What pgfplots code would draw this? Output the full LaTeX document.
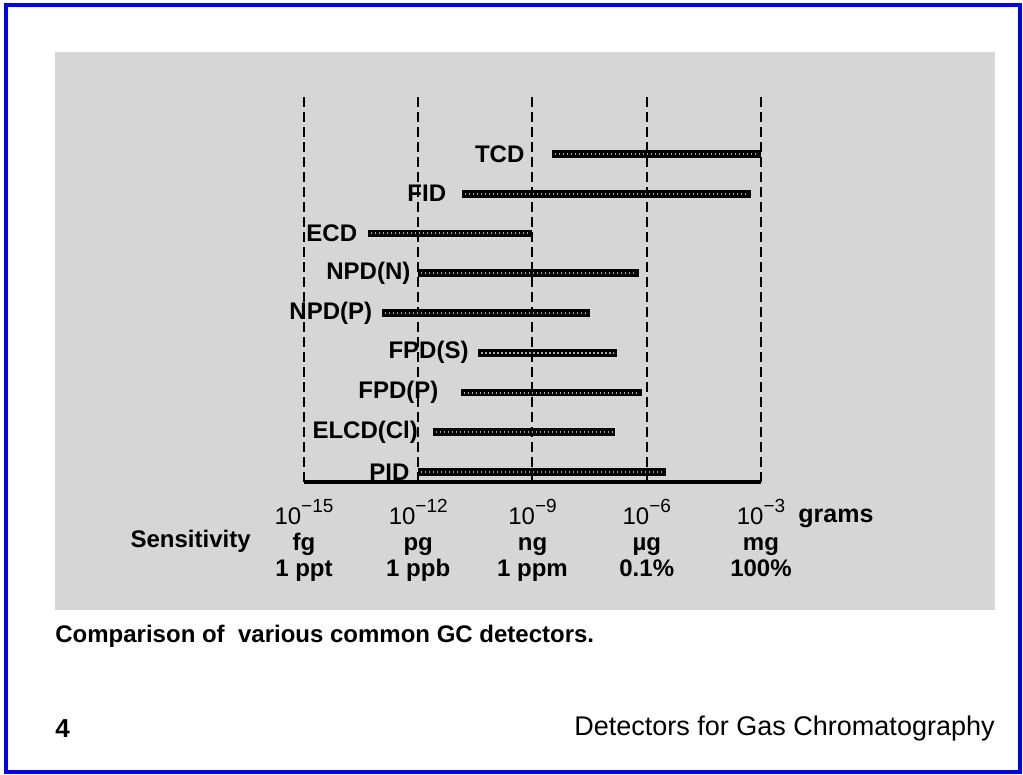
\documentclass[border=0pt]{standalone}
\usepackage{fontspec}
\setmainfont{Liberation Sans}
\usepackage{pgfplots}
\pgfplotsset{compat=1.18}
\newcommand\ex[1]{10\raisebox{0.5em}{\fontsize{9.5}{9.5}\selectfont #1}}
\tikzset{
  lab/.style={font=\bfseries\fontsize{12}{14}\selectfont, inner sep=0pt, pos=0, anchor=east},
  outerbar/.style={black, line width=3.9pt},
  innerbar/.style={black!35, line width=1pt, dash pattern=on 0.7pt off 1.3pt, shorten <=1.4pt, shorten >=1.4pt},
}
\begin{document}
\begin{tikzpicture}
\useasboundingbox (0pt,0pt) rectangle (511.5pt,387.5pt);
\fill[white] (0pt,0pt) rectangle (511.5pt,387.5pt);
\draw[blue, line width=2pt] (3pt,1.5pt) rectangle (510pt,385pt);
\fill[black!16] (27.5pt,82.5pt) rectangle (497.5pt,361.5pt);
\begin{axis}[
  at={(152pt,146.5pt)}, anchor=south west,
  scale only axis, width=228.5pt, height=193.5pt,
  xmode=log, xmin=1e-15, xmax=1e-3, ymin=0.75, ymax=10.48,
  axis x line=bottom, axis y line=none,
  x axis line style={-, line width=2pt, black},
  xtick={1e-15,1e-12,1e-9,1e-6,1e-3},
  xticklabels={{\ex{−15}\\\bfseries fg\\\bfseries 1 ppt},
               {\ex{−12}\\\bfseries pg\\\bfseries 1 ppb},
               {\ex{−9}\\\bfseries ng\\\bfseries 1 ppm},
               {\ex{−6}\\\bfseries µg\\\bfseries 0.1\%},
               {\ex{−3}\\\bfseries mg\\\bfseries 100\%}},
  xticklabel style={align=center, font=\fontsize{12}{13}\selectfont, yshift=-5pt},
  major tick length=0pt,
  xminorticks=false,
  xmajorgrids,
  major grid style={black, line width=1pt, dash pattern=on 5pt off 2.5pt},
  clip=false,
]
% black outer bars with labels
\addplot[outerbar] coordinates {(3.31e-9,9) (1e-3,9)} node[lab,xshift=-12pt]{TCD};
\addplot[outerbar] coordinates {(1.41e-11,8) (5.5e-4,8)} node[lab,xshift=-6pt]{FID};
\addplot[outerbar] coordinates {(4.79e-14,7) (1e-9,7)} node[lab,xshift=-3.5pt]{ECD};
\addplot[outerbar] coordinates {(1e-12,6) (6.17e-7,6)} node[lab,xshift=-2pt]{NPD(N)};
\addplot[outerbar] coordinates {(1.12e-13,5) (3.31e-8,5)} node[lab,xshift=-3pt]{NPD(P)};
\addplot[outerbar] coordinates {(3.8e-11,4) (1.66e-7,4)} node[lab,xshift=-3pt]{FPD(S)};
\addplot[outerbar] coordinates {(1.35e-11,3) (7.41e-7,3)} node[lab,xshift=-9.5pt]{FPD(P)};
\addplot[outerbar] coordinates {(2.4e-12,2) (1.48e-7,2)} node[lab,xshift=-5.5pt]{ELCD(Cl)};
\addplot[outerbar] coordinates {(1e-12,1) (3.24e-6,1)} node[lab,xshift=-2.5pt]{PID};
% dotted inner pattern
\addplot[innerbar] coordinates {(3.31e-9,9) (1e-3,9)};
\addplot[innerbar] coordinates {(1.41e-11,8) (5.5e-4,8)};
\addplot[innerbar] coordinates {(4.79e-14,7) (1e-9,7)};
\addplot[innerbar] coordinates {(1e-12,6) (6.17e-7,6)};
\addplot[innerbar] coordinates {(1.12e-13,5) (3.31e-8,5)};
\addplot[innerbar] coordinates {(3.8e-11,4) (1.66e-7,4)};
\addplot[innerbar] coordinates {(1.35e-11,3) (7.41e-7,3)};
\addplot[innerbar] coordinates {(2.4e-12,2) (1.48e-7,2)};
\addplot[innerbar] coordinates {(1e-12,1) (3.24e-6,1)};
\end{axis}
\node[anchor=west, font=\bfseries\fontsize{12.5}{14}\selectfont, inner sep=0pt] at (399pt,128.5pt) {grams};
\node[anchor=east, font=\bfseries\fontsize{12}{14}\selectfont, inner sep=0pt] at (125.5pt,117pt) {Sensitivity};
\node[anchor=west, font=\bfseries\fontsize{12}{14}\selectfont, inner sep=0pt] at (27.5pt,69.5pt) {Comparison of\ \ various common GC detectors.};
\node[anchor=west, font=\bfseries\fontsize{13}{15}\selectfont, inner sep=0pt] at (27.5pt,23pt) {4};
\node[anchor=east, font=\fontsize{13.5}{15}\selectfont, inner sep=0pt] at (497.5pt,23pt) {Detectors for Gas Chromatography};
\end{tikzpicture}
\end{document}
